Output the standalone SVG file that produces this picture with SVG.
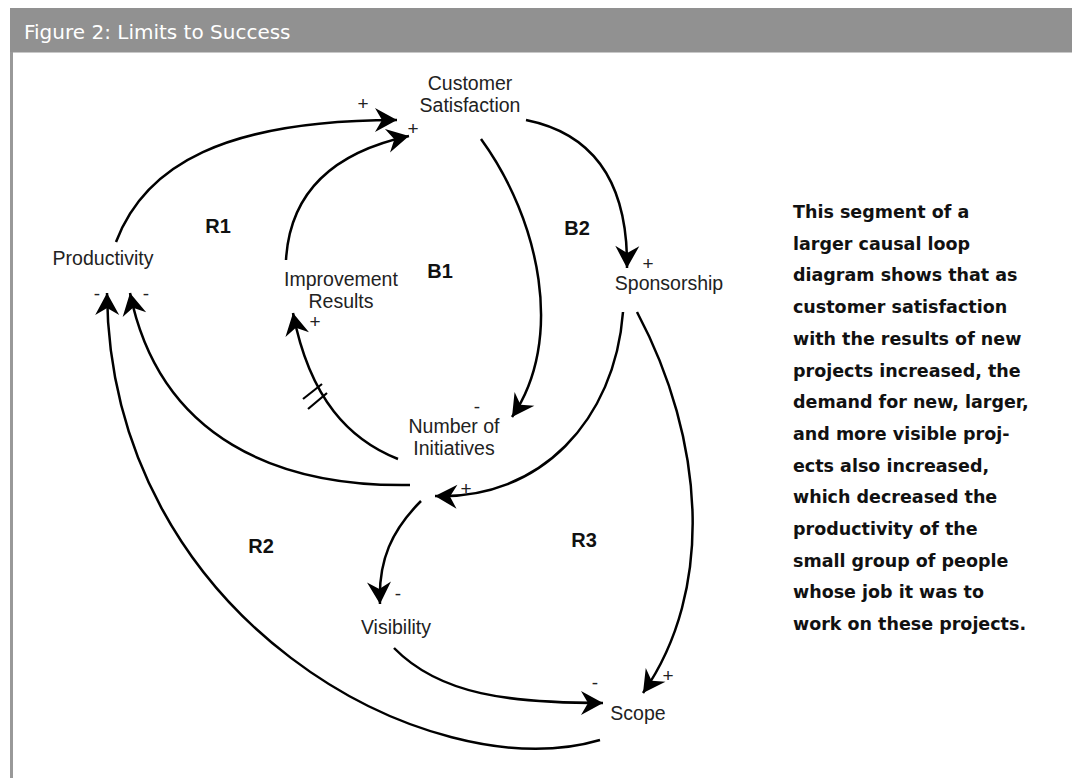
<svg xmlns="http://www.w3.org/2000/svg" width="1072" height="778" viewBox="0 0 1072 778">
<defs>
<style>
.lbl{font-family:"Liberation Sans",Arial,sans-serif;font-size:19.5px;fill:#222;text-anchor:middle}
.loop{font-family:"Liberation Sans",Arial,sans-serif;font-size:20px;font-weight:bold;fill:#111;text-anchor:middle}
.sign{font-family:"Liberation Sans",Arial,sans-serif;font-size:19px;fill:#222;text-anchor:middle}
.link{fill:none;stroke:#000;stroke-width:2.5;marker-end:url(#arr)}
.plain{fill:none;stroke:#000;stroke-width:2.2}
.para{font-family:"DejaVu Sans",sans-serif;font-weight:bold;font-size:17.5px;fill:#111}
.title{font-family:"DejaVu Sans",sans-serif;font-size:20px;fill:#fff}
</style>
<marker id="arr" markerUnits="userSpaceOnUse" viewBox="-23 -13 24 26" markerWidth="24" markerHeight="26" refX="0" refY="0" orient="auto">
<path d="M0,0 L-22,-12 L-15,0 L-22,12 Z" fill="#000"/>
</marker>
</defs>
<rect width="1072" height="778" fill="#fff"/>
<g id="frame">
<rect x="10" y="8" width="1062" height="44.5" fill="#919191"/>
<line x1="11.5" y1="52" x2="11.5" y2="778" stroke="#999" stroke-width="3"/>
<text class="title" x="24" y="38.5">Figure 2: Limits to Success</text>
</g>
<g id="connectors">
<path class="link" d="M116,242 C145,165 225,120 397,120"/>
<path class="link" d="M286,260 C290,190 335,152 409,136"/>
<path class="link" d="M526,120 C600,135 628,190 627,268"/>
<path class="link" d="M481,139 C540,220 565,340 512,417"/>
<path class="link" d="M398,459 C350,440 310,400 293,313"/>
<line class="plain" x1="303" y1="399" x2="322" y2="384"/>
<line class="plain" x1="308" y1="409" x2="327" y2="393"/>
<path class="link" d="M410,485 C280,487 160,440 130,293"/>
<path class="link" d="M600,740 C430,790 110,620 107,293"/>
<path class="link" d="M623,312 C615,420 540,500 435,496"/>
<path class="link" d="M637,312 C705,440 715,590 643,693"/>
<path class="link" d="M421,501 C392,530 378,560 380,604"/>
<path class="link" d="M394,648 C440,695 510,703 603,703"/>
</g>
<g id="polarities">
<text class="sign" x="363" y="110">+</text>
<text class="sign" x="413" y="135">+</text>
<text class="sign" x="648" y="270">+</text>
<text class="sign" x="477" y="413">-</text>
<text class="sign" x="315" y="328">+</text>
<text class="sign" x="97" y="300">-</text>
<text class="sign" x="146" y="300">-</text>
<text class="sign" x="466" y="495">+</text>
<text class="sign" x="398" y="600">-</text>
<text class="sign" x="595" y="689">-</text>
<text class="sign" x="668" y="682">+</text>
</g>
<g id="node-customer-satisfaction">
<text class="lbl" x="470" y="90">Customer</text>
<text class="lbl" x="470" y="112">Satisfaction</text>
</g>
<g id="node-productivity">
<text class="lbl" x="103" y="265">Productivity</text>
</g>
<g id="node-improvement-results">
<text class="lbl" x="341" y="286">Improvement</text>
<text class="lbl" x="341" y="308">Results</text>
</g>
<g id="node-sponsorship">
<text class="lbl" x="669" y="290">Sponsorship</text>
</g>
<g id="node-number-of-initiatives">
<text class="lbl" x="454" y="433">Number of</text>
<text class="lbl" x="454" y="455">Initiatives</text>
</g>
<g id="node-visibility">
<text class="lbl" x="396" y="634">Visibility</text>
</g>
<g id="node-scope">
<text class="lbl" x="638" y="720">Scope</text>
</g>
<g id="loop-labels">
<text class="loop" x="218" y="233">R1</text>
<text class="loop" x="440" y="278">B1</text>
<text class="loop" x="577" y="235">B2</text>
<text class="loop" x="261" y="553">R2</text>
<text class="loop" x="584" y="547">R3</text>
</g>
<g id="caption">
<text class="para" x="793" y="218">This segment of a<tspan x="793" dy="31.7">larger causal loop</tspan><tspan x="793" dy="31.7">diagram shows that as</tspan><tspan x="793" dy="31.7">customer satisfaction</tspan><tspan x="793" dy="31.7">with the results of new</tspan><tspan x="793" dy="31.7">projects increased, the</tspan><tspan x="793" dy="31.7">demand for new, larger,</tspan><tspan x="793" dy="31.7">and more visible proj-</tspan><tspan x="793" dy="31.7">ects also increased,</tspan><tspan x="793" dy="31.7">which decreased the</tspan><tspan x="793" dy="31.7">productivity of the</tspan><tspan x="793" dy="31.7">small group of people</tspan><tspan x="793" dy="31.7">whose job it was to</tspan><tspan x="793" dy="31.7">work on these projects.</tspan></text>
</g>
</svg>
